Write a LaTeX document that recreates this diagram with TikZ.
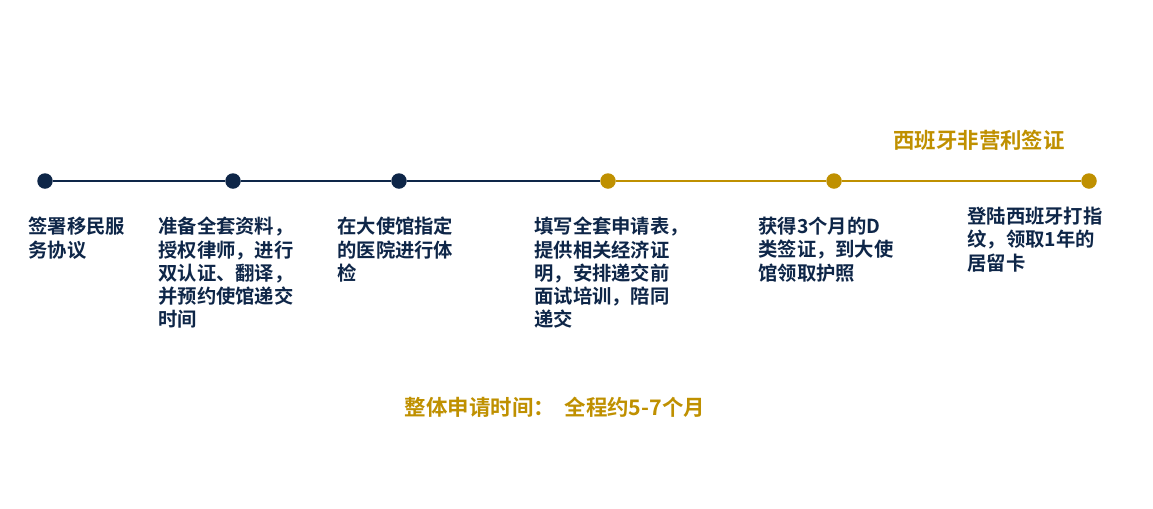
\documentclass[tikz,border=0pt]{standalone}
\usepackage{fontspec}
\newfontfamily\cjk{Noto Sans CJK SC}[BoldFont={Noto Sans CJK SC Bold}]
\usepackage{xcolor}
\usepackage{tikz}
\usetikzlibrary{positioning}
\definecolor{navy}{RGB}{14,38,72}
\definecolor{gold}{RGB}{191,144,0}

\begin{document}
\begin{tikzpicture}[x=0.02cm,y=-0.02cm,
  dot/.style={circle,fill=#1,inner sep=0pt,minimum size=0.31cm},
  stagetext/.style={anchor=north west,inner sep=0pt,align=left,text=navy,
    font=\cjk\bfseries\fontsize{11}{13.2}\selectfont},
  goldtext/.style={inner sep=0pt,text=gold,font=\cjk\bfseries\fontsize{12.2}{14}\selectfont}]
  \useasboundingbox (0,0) rectangle (1153,508);
  % timeline
  \node[dot=navy] (d1) at (45,181) {};
  \node[dot=navy] (d2) at (233,181) {};
  \node[dot=navy] (d3) at (399,181) {};
  \node[dot=gold] (d4) at (608,181) {};
  \node[dot=gold] (d5) at (834,181) {};
  \node[dot=gold] (d6) at (1089,181) {};
  \draw[navy,line width=0.7pt] (d1) -- (d2) -- (d3) -- (d4);
  \draw[gold,line width=0.7pt] (d4) -- (d5) -- (d6);
  % stages
  \node[stagetext] (s1) at (28,217) {签署移民服\\务协议};
  \node[stagetext] (s2) at (158,217) {准备全套资料，\\授权律师，进行\\双认证、翻译，\\并预约使馆递交\\时间};
  \node[stagetext] (s3) at (337,217) {在大使馆指定\\的医院进行体\\检};
  \node[stagetext] (s4) at (534,217) {填写全套申请表，\\提供相关经济证\\明，安排递交前\\面试培训，陪同\\递交};
  \node[stagetext] (s5) at (758,217) {获得3个月的D\\类签证，到大使\\馆领取护照};
  \node[stagetext] (s6) at (967,207) {登陆西班牙打指\\纹，领取1年的\\居留卡};
  % titles
  \node[goldtext] (title) at (979,140) {西班牙非营利签证};
  \node[goldtext] (total) at (555,407) {整体申请时间：\ \ 全程约5-7个月};
\end{tikzpicture}
\end{document}
